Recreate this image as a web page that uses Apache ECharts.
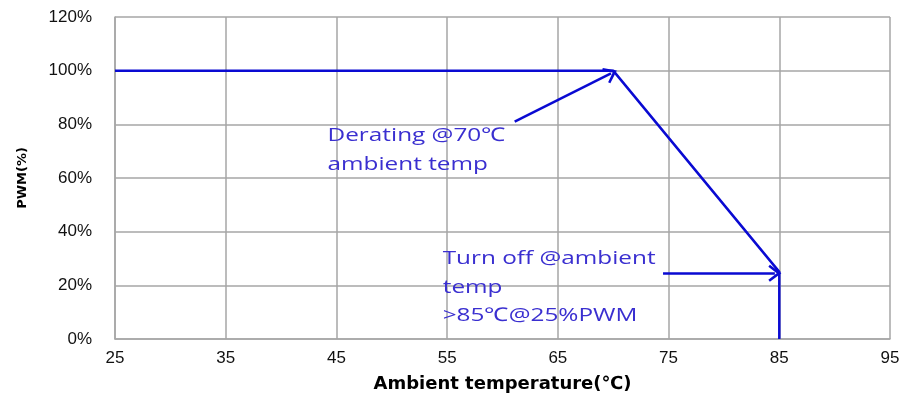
<!DOCTYPE html>
<html>
<head>
<meta charset="utf-8">
<script src="https://cdn.jsdelivr.net/npm/echarts@6/dist/echarts.min.js"></script>
<style>
  html, body { margin: 0; padding: 0; background: #fff; }
  #chart { width: 904px; height: 403px; }
</style>
</head>
<body>
<div id="chart"></div>
<script>
// derating curve: [ambient temp, PWM fraction]
const curve = [[25, 1.0], [70, 1.0], [85, 0.25], [85, 0]];
// annotation arrows: [from, to]
const arrows = [
  [[61.1, 0.81], [69.8, 0.99]],
  [[74.5, 0.245], [84.6, 0.245]]
];
// annotation texts: top-left anchor in data coords
const notes = [
  { at: [44.2, 0.792], lines: ["Derating @70\u2103", "ambient temp"] },
  { at: [54.6, 0.335], lines: ["Turn off @ambient", "temp", ">85\u2103@25%PWM"] }
];

const gridColor = "#a6a6a6";
const lineColor = "#0a0ad2";
const noteColor = "#3a2fd0";

let chart = echarts.init(document.getElementById("chart"));
let option = {
  animation: false,
  grid: { left: 115, right: 14, top: 17, bottom: 64 },
  xAxis: {
    type: "value",
    min: 25, max: 95, interval: 10,
    name: "Ambient temperature(\u2103)",
    nameLocation: "middle",
    nameGap: 36,
    nameTextStyle: { fontFamily: "DejaVu Sans", fontWeight: "bold", fontSize: 18, color: "#000" },
    axisLine: { lineStyle: { color: gridColor, width: 1.5 } },
    axisTick: { show: false },
    axisLabel: { fontFamily: "Liberation Sans", fontSize: 17, color: "#111", margin: 11 },
    splitLine: { lineStyle: { color: gridColor, width: 1.5 } }
  },
  yAxis: {
    type: "value",
    min: 0, max: 1.2, interval: 0.2,
    name: "PWM(%)",
    nameLocation: "middle",
    nameGap: 86,
    nameTextStyle: { fontFamily: "DejaVu Sans", fontWeight: "bold", fontSize: 13, color: "#000" },
    axisLine: { show: true, lineStyle: { color: gridColor, width: 1.5 } },
    axisTick: { show: false },
    axisLabel: {
      fontFamily: "Liberation Sans", fontSize: 17, color: "#111", margin: 23,
      formatter: (v) => Math.round(v * 100) + "%"
    },
    splitLine: { lineStyle: { color: gridColor, width: 1.5 } }
  },
  series: [
    {
      type: "line",
      data: curve,
      symbol: "none",
      lineStyle: { color: lineColor, width: 2.5 },
      markLine: {
        silent: true,
        symbol: ["none", "path://M0,0 L7,9 L5.4,10.2 L0,3.6 L-5.4,10.2 L-7,9 Z"],
        symbolSize: [17, 13],
        label: { show: false },
        lineStyle: { color: lineColor, width: 2.5, type: "solid" },
        data: arrows.map((a) => [{ coord: a[0] }, { coord: a[1] }])
      }
    }
  ]
};
chart.setOption(option);

// place annotation text from data coords (the reference text is wide, so stretch it)
let graphics = [];
notes.forEach((n) => {
  let p = chart.convertToPixel({ gridIndex: 0 }, n.at);
  n.lines.forEach((t, i) => {
    graphics.push({
      type: "text",
      x: p[0],
      y: p[1] + i * 28.5,
      scaleX: 1.28,
      style: { text: t, fill: noteColor, font: "19px 'Open Sans'" }
    });
  });
});
chart.setOption({ graphic: graphics });
</script>
</body>
</html>
